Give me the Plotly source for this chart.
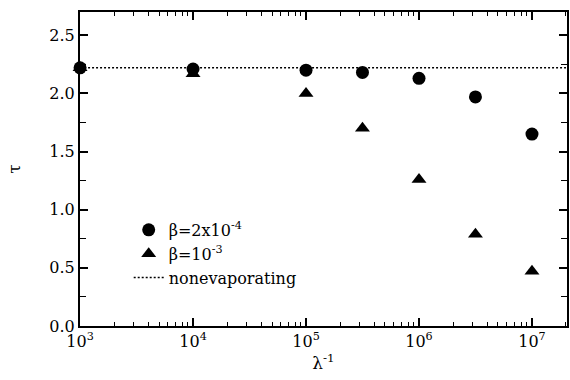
import plotly.graph_objects as go

# inverse evaporation parameter and lifetimes
lam_inv = [1e3, 1e4, 1e5, 3.16e5, 1e6, 3.16e6, 1e7]
tau_beta_2e4 = [2.22, 2.21, 2.20, 2.18, 2.13, 1.97, 1.65]
tau_beta_1e3 = [2.22, 2.17, 2.00, 1.70, 1.26, 0.79, 0.47]
tau_noneva = 2.22
x_line = [1e3, 2e7]

tick_vals = [1e3, 1e4, 1e5, 1e6, 1e7]
tick_text = ["10<sup>3</sup>", "10<sup>4</sup>", "10<sup>5</sup>", "10<sup>6</sup>", "10<sup>7</sup>"]

FONT = "DejaVu Serif"

fig = go.Figure()
fig.add_trace(go.Scatter(
    x=lam_inv, y=tau_beta_2e4, mode="markers", name="β=2x10<sup>-4</sup>",
    marker=dict(symbol="circle", size=13, color="black"), cliponaxis=False))
fig.add_trace(go.Scatter(
    x=lam_inv, y=tau_beta_1e3, mode="markers", name="β=10<sup>-3</sup>",
    marker=dict(symbol="triangle-up", size=13, color="black"), cliponaxis=False))
fig.add_trace(go.Scatter(
    x=x_line, y=[tau_noneva] * len(x_line), mode="lines", name="nonevaporating",
    line=dict(color="black", width=1.6, dash="2px,2px")))

axis_common = dict(
    showline=True, linecolor="black", linewidth=2, mirror="ticks",
    ticks="inside", tickcolor="black", tickwidth=1.5, ticklen=8,
    showgrid=False, zeroline=False,
    tickfont=dict(family=FONT, size=16, color="black"),
)

fig.update_xaxes(
    type="log", range=[2.9995, 7.31], tickvals=tick_vals, ticktext=tick_text,
    title=dict(text="λ<sup>-1</sup>", font=dict(family=FONT, size=17, color="black"), standoff=2),
    minor=dict(ticks="inside", ticklen=4, tickcolor="black", tickwidth=1.2, dtick="D1", showgrid=False),
    **axis_common)
fig.update_yaxes(
    range=[0, 2.7], tickvals=[0, 0.5, 1.0, 1.5, 2.0, 2.5],
    ticktext=["0.0", "0.5", "1.0", "1.5", "2.0", "2.5"],
    title=dict(text="τ", font=dict(family=FONT, size=17, color="black"), standoff=24),
    minor=dict(ticks="inside", ticklen=6, tickcolor="black", tickwidth=1.2, dtick=0.25, showgrid=False),
    **axis_common)

fig.update_layout(
    width=570, height=380,
    margin=dict(l=80, r=1, t=12, b=54),
    plot_bgcolor="white", paper_bgcolor="white",
    font=dict(family=FONT, color="black"),
    legend=dict(x=0.1, y=0.36, xanchor="left", yanchor="top",
                bgcolor="rgba(0,0,0,0)", font=dict(family=FONT, size=16, color="black"),
                tracegroupgap=0, itemwidth=30),
)

fig.write_html("out.html")
